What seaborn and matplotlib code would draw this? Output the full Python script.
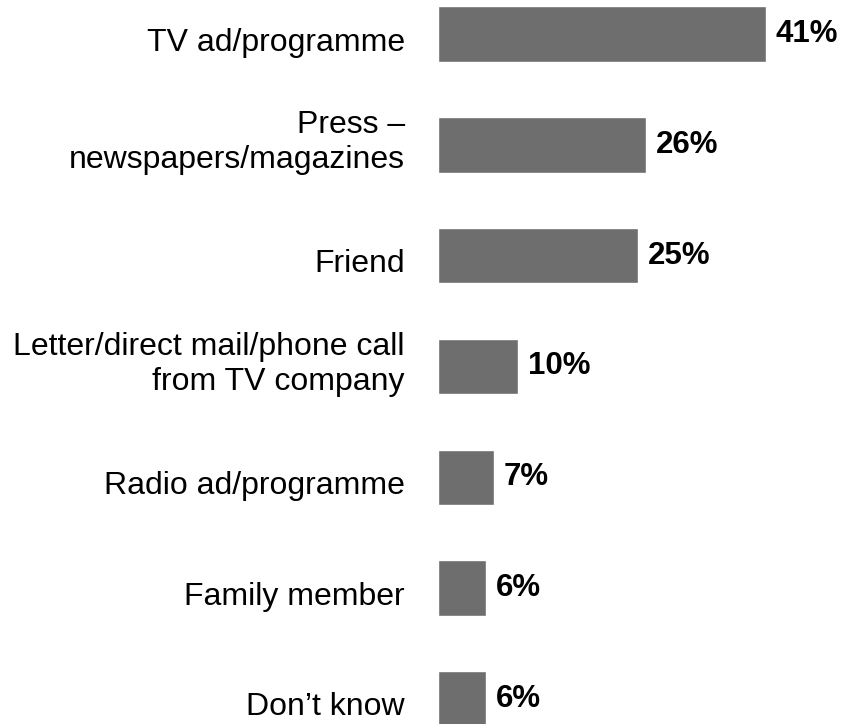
import matplotlib
matplotlib.use("Agg")
import matplotlib.pyplot as plt
import matplotlib.transforms as mtransforms
import seaborn as sns
import pandas as pd

# Where people heard about it (share of respondents, %)
sources = [
    "TV ad/programme",
    "Press –\nnewspapers/magazines",
    "Friend",
    "Letter/direct mail/phone call\nfrom TV company",
    "Radio ad/programme",
    "Family member",
    "Don’t know",
]
shares = [41, 26, 25, 10, 7, 6, 6]

BAR_COLOR = "#6e6e6e"

sns.set_style("white")
plt.rcParams["font.family"] = ["Liberation Sans", "DejaVu Sans"]

df = pd.DataFrame({"source": sources, "share": shares})

W, H = 854, 724
fig = plt.figure(figsize=(W / 100, H / 100), dpi=100)
ax = fig.add_axes([438 / W, 0, (W - 438) / W, 1])

sns.barplot(data=df, x="share", y="source", ax=ax, color=BAR_COLOR,
            saturation=1, width=0.5, orient="h")

ax.set_xlim(0, 52)
ax.set_ylim(6.227, -0.307)

ax.bar_label(ax.containers[0], labels=[f"{v}%" for v in shares],
             padding=7.2, fontsize=22.5, fontweight="bold", color="black")

ax.tick_params(axis="y", length=0, pad=23.8, labelsize=23, labelcolor="black")

# single-line category labels sit slightly low, two-line ones slightly high
for lbl in ax.get_yticklabels():
    dy = 8 if "\n" in lbl.get_text() else -5
    lbl.set_transform(lbl.get_transform() +
                      mtransforms.ScaledTranslation(0, dy / 100, fig.dpi_scale_trans))

ax.set_xlabel("")
ax.set_ylabel("")
ax.xaxis.set_visible(False)
for s in ax.spines.values():
    s.set_visible(False)

fig.savefig("out.png", dpi=100, facecolor="white")
